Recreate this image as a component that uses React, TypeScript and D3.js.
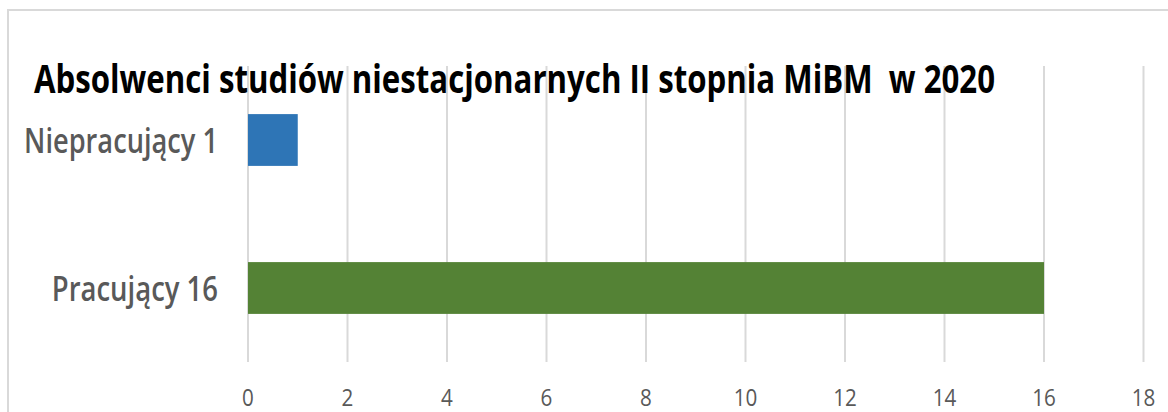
import React from 'react';
import * as d3 from 'd3';

// dane wykresu
const title = 'Absolwenci studiów niestacjonarnych II stopnia MiBM  w 2020';
const categories = ['Niepracujący 1', 'Pracujący 16'];
const values = [1, 16];
const barColors = ['#2E75B6', '#548235'];
const xTicks = [0, 2, 4, 6, 8, 10, 12, 14, 16, 18];

const W = 1168;
const H = 412;
const margin = { top: 66, right: 25, bottom: 50, left: 248 };
const font = "'Open Sans', 'Noto Sans', sans-serif";

const App = () => {
  const x = d3.scaleLinear()
    .domain([0, 18])
    .range([margin.left, 1143.5]);

  const y = d3.scaleBand()
    .domain(categories)
    .range([margin.top, H - margin.bottom])
    .paddingInner(0.65)
    .paddingOuter(0.325);

  const gridBottom = H - margin.bottom;

  return (
    <svg width={W} height={H} style={{ position: 'absolute', left: 0, top: 0, background: '#fff' }}>
      {/* ramka wykresu */}
      <rect x={8} y={10} width={1300} height={600} fill="#fff" stroke="#d9d9d9" strokeWidth={2} />

      {/* linie siatki */}
      {xTicks.map(t => (
        <line key={t} x1={x(t)} x2={x(t)} y1={margin.top} y2={gridBottom} stroke="#d9d9d9" strokeWidth={2} />
      ))}

      {/* słupki */}
      {categories.map((c, i) => (
        <rect
          key={c}
          x={x(0)}
          y={y(c)}
          width={x(values[i]) - x(0)}
          height={y.bandwidth()}
          fill={barColors[i]}
        />
      ))}

      {/* etykiety kategorii */}
      {categories.map(c => (
        <text
          key={c}
          x={x(0) - 30}
          y={(y(c) ?? 0) + y.bandwidth() / 2 + 13}
          textAnchor="end"
          fontFamily={font}
          fontWeight={600}
          fontSize={34}
          fill="#595959"
          textLength={c.length * 13.85}
          lengthAdjust="spacingAndGlyphs"
        >
          {c}
        </text>
      ))}

      {/* etykiety osi X */}
      {xTicks.map(t => (
        <text
          key={t}
          x={x(t)}
          y={406}
          textAnchor="middle"
          fontFamily={font}
          fontSize={23}
          fill="#595959"
          textLength={String(t).length * 11.8}
          lengthAdjust="spacingAndGlyphs"
        >
          {t}
        </text>
      ))}

      {/* tytuł */}
      <text
        x={34}
        y={93}
        fontFamily={font}
        fontWeight="bold"
        fontSize={40}
        fill="#000"
        style={{ whiteSpace: 'pre' }}
        textLength={961}
        lengthAdjust="spacingAndGlyphs"
      >
        {title}
      </text>
    </svg>
  );
};

export default App;
